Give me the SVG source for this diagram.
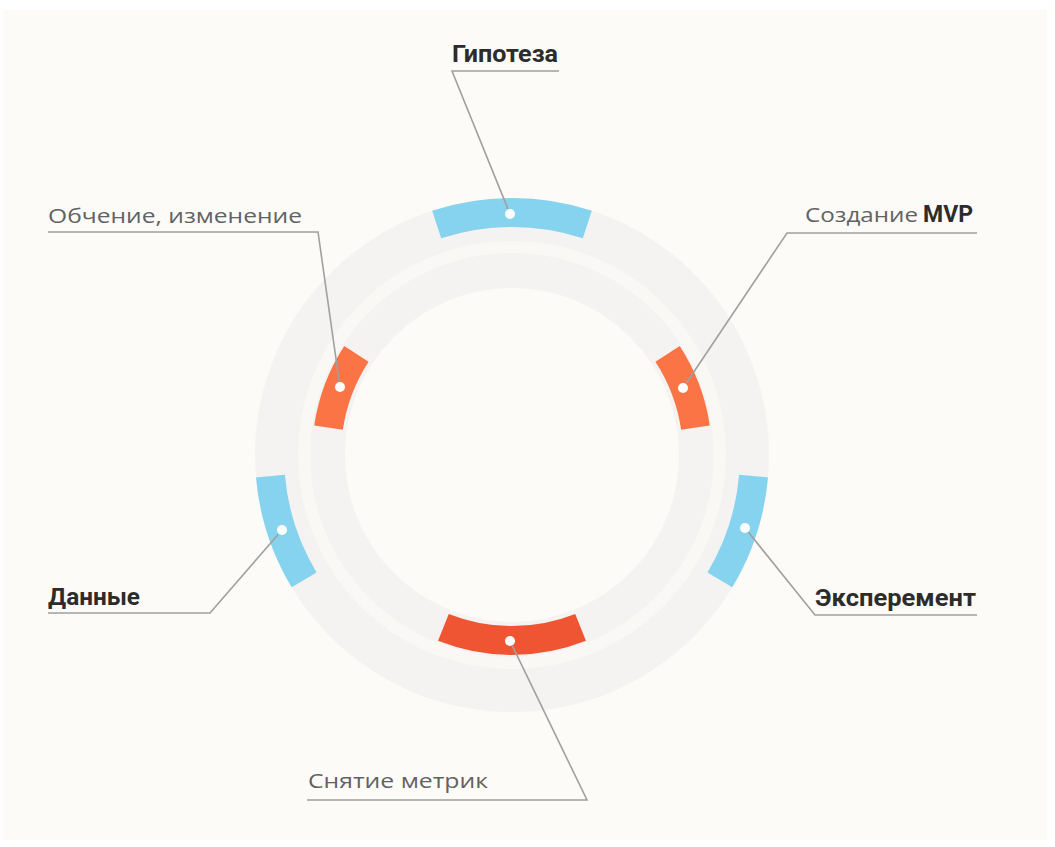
<svg xmlns="http://www.w3.org/2000/svg" width="1055" height="847" viewBox="0 0 1055 847">
  <style>
    .ring { fill: none; stroke: #f4f3f1; }
    .gap { fill: none; stroke: #f9f8f5; }
    .blue { fill: #86d3ef; }
    .orange { fill: #fa7446; }
    .red { fill: #ef5532; }
    .dot { fill: #ffffff; }
    .bold { font-family: Roboto, "Noto Sans", sans-serif; font-weight: 700; font-size: 23px; fill: #2c2c2c; }
    .reg { font-family: "Open Sans", "Noto Sans", sans-serif; font-weight: 400; font-size: 20px; fill: #626262; }
    .lead { fill: none; stroke: #a0a0a0; stroke-width: 1.6; stroke-linejoin: miter; }
  </style>

  <!-- page -->
  <rect x="0" y="0" width="1055" height="847" fill="#ffffff"/>
  <rect x="3" y="10" width="1044" height="830" fill="#fdfbf7"/>

  <!-- cycle rings, centre (512,455) -->
  <g id="rings">
    <circle class="gap" cx="512" cy="455" r="208" stroke-width="14"/>
    <circle class="ring" cx="512" cy="455" r="235.5" stroke-width="43"/>
    <circle class="ring" cx="512" cy="455" r="184.5" stroke-width="35"/>
  </g>

  <g id="node-hypothesis">
    <path class="blue" d="M432.15,210.72 A257,257 0 0 1 591.85,210.72 L582.84,238.29 A228,228 0 0 0 441.16,238.29 Z"/>
    <circle class="dot" cx="510" cy="214" r="5"/>
    <text class="bold" x="452" y="62" textLength="106" lengthAdjust="spacingAndGlyphs">Гипотеза</text>
  </g>

  <g id="node-mvp">
    <path class="orange" d="M679.73,346.07 A200,200 0 0 1 709.80,425.44 L681.12,429.72 A171,171 0 0 0 655.42,361.87 Z"/>
    <circle class="dot" cx="683" cy="388" r="5"/>
    <text y="222"><tspan class="reg" x="805" textLength="113" lengthAdjust="spacingAndGlyphs">Создание</tspan><tspan class="bold" x="923" font-size="21" fill="#2c2c2c" textLength="50" lengthAdjust="spacingAndGlyphs">MVP</tspan></text>
  </g>

  <g id="node-experiment">
    <path class="blue" d="M768.02,477.40 A257,257 0 0 1 732.29,587.36 L707.44,572.42 A228,228 0 0 0 739.13,474.87 Z"/>
    <circle class="dot" cx="745" cy="528" r="5"/>
    <text class="bold" x="815" y="606" textLength="161" lengthAdjust="spacingAndGlyphs">Эксперемент</text>
  </g>

  <g id="node-metrics">
    <path class="red" d="M585.95,640.82 A200,200 0 0 1 438.05,640.82 L448.78,613.88 A171,171 0 0 0 575.22,613.88 Z"/>
    <circle class="dot" cx="510" cy="641" r="5"/>
    <text class="reg" x="308" y="788" textLength="180" lengthAdjust="spacingAndGlyphs">Снятие метрик</text>
  </g>

  <g id="node-data">
    <path class="blue" d="M255.98,477.40 A257,257 0 0 0 291.71,587.36 L316.56,572.42 A228,228 0 0 1 284.87,474.87 Z"/>
    <circle class="dot" cx="282" cy="530" r="5"/>
    <text class="bold" x="48" y="605" textLength="92" lengthAdjust="spacingAndGlyphs">Данные</text>
  </g>

  <g id="node-learning">
    <path class="orange" d="M344.27,346.07 A200,200 0 0 0 314.20,425.44 L342.88,429.72 A171,171 0 0 1 368.58,361.87 Z"/>
    <circle class="dot" cx="340" cy="387" r="5"/>
    <text class="reg" x="48" y="223" textLength="254" lengthAdjust="spacingAndGlyphs">Обчение, изменение</text>
  </g>

  <!-- leader lines: underline under each label, then a slanted run to the dot -->
  <g id="connectors">
    <polyline class="lead" points="559,71 452,71 507.93,208.90"/>
    <polyline class="lead" points="977,233 787,233 686.06,383.43"/>
    <polyline class="lead" points="977,615 815,615 748.45,532.28"/>
    <polyline class="lead" points="307,800 587,800 512.40,645.95"/>
    <polyline class="lead" points="48,613 210,613 278.40,534.15"/>
    <polyline class="lead" points="48,232 318,232 339.23,381.56"/>
  </g>
</svg>
